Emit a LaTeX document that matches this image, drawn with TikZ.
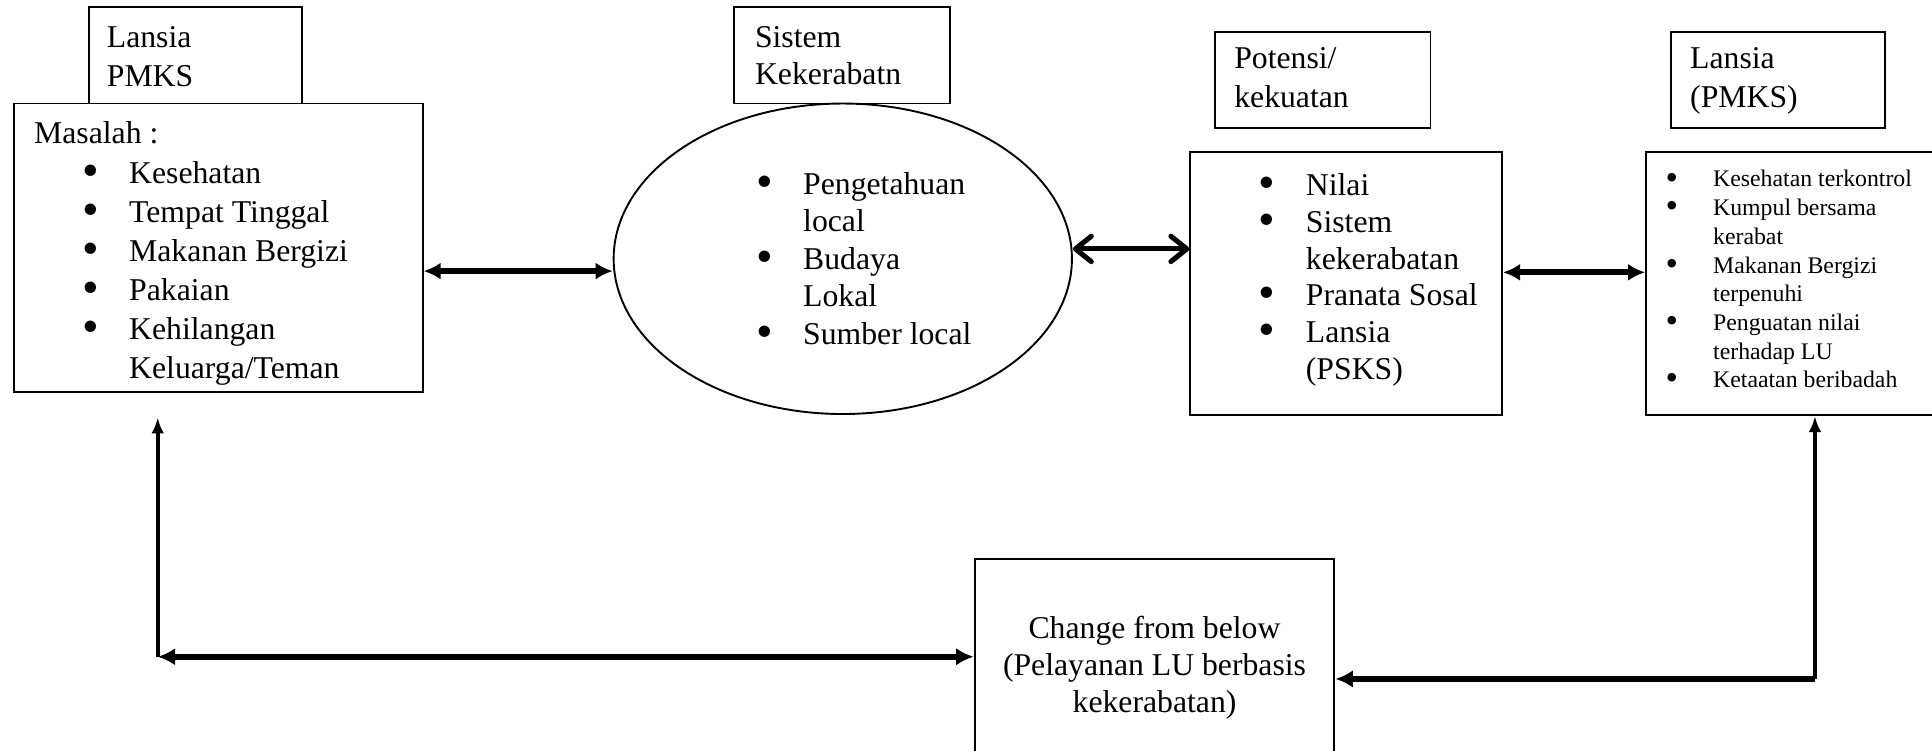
\documentclass[tikz,border=0pt]{standalone}
\usepackage{fontspec}
\setmainfont{Liberation Serif}
\usetikzlibrary{positioning, fit, shapes.geometric, arrows.meta}

\newcommand{\itm}[2][14.8pt]{\makebox[#1][l]{\smash{\raisebox{-.09em}{\scalebox{1.5}{\textbullet}}}}#2}
\newcommand{\itmgo}[2][14.8pt]{\hspace*{#1}#2}

\begin{document}
\begin{tikzpicture}
% Style
[
    x=0.3885pt, y=-0.3885pt, line width=.6pt,
    box/.style={draw, inner sep=0pt, shape=rectangle},
    txt/.style={inner sep=0pt, anchor=north west, align=left, font=\fontsize{10}{12.3}\selectfont},
    both/.style={line width=1.9pt, {Latex[length=5.4pt,width=5.4pt]}-{Latex[length=5.4pt,width=5.4pt]}},
    barb/.style={line width=1.6pt, {Straight Barb[length=5pt,width=8pt,round]}-{Straight Barb[length=5pt,width=8pt,round]}},
    link/.style={line width=1.8pt},
    rise/.style={line width=1.2pt, -{Latex[length=5pt,width=4pt]}}
]
\useasboundingbox (0,0) rectangle (1568,609);

%=================================== Start ===================================
{
    \foreach \n/\xa/\ya/\xb/\yb in {hd-1/72/6/245/84, hd-2/596/6/771/84, hd-3/986/26/1161/104,
        hd-4/1356/26/1530/104, bx-1/11/84/343/318, bx-3/966/123/1219/337,
        bx-4/1336/123/1572/337, bx-5/791/454/1083/612} {
        \node[box, fit={(\xa,\ya) (\xb,\yb)}] (\n) {};
    }
    \node[draw, ellipse, inner sep=0pt, minimum width=144.5pt, minimum height=97.9pt] (el-2) at (684,210) {};

    % headers
    \node[txt] (t-hd-1) at (86,21) {Lansia\\PMKS};
    \node[txt, font=\fontsize{10}{11.7}\selectfont] (t-hd-2) at (612,21) {Sistem\\Kekerabatn};
    \node[txt] (t-hd-3) at (1001,38) {Potensi/\\kekuatan};
    \node[txt] (t-hd-4) at (1371,38) {Lansia\\(PMKS)};

    % contents
    \node[txt] (t-bx-1) at (27,98) {Masalah :};
    \node[txt] (l-bx-1) at (66,130) {\itm{Kesehatan}\\ \itm{Tempat Tinggal}\\ \itm{Makanan Bergizi}\\
        \itm{Pakaian}\\ \itm{Kehilangan}\\ \itmgo{Keluarga/Teman}};
    \node[txt, font=\fontsize{10}{11.85}\selectfont] (l-el-2) at (613,139) {\itm{Pengetahuan}\\ \itmgo{local}\\
        \itm{Budaya}\\ \itmgo{Lokal}\\ \itm{Sumber local}};
    \node[txt, font=\fontsize{10}{11.6}\selectfont] (l-bx-3) at (1021,140) {\itm{Nilai}\\ \itm{Sistem}\\
        \itmgo{kekerabatan}\\ \itm{Pranata Sosal}\\ \itm{Lansia}\\ \itmgo{(PSKS)}};
    \node[txt, font=\fontsize{7.5}{9.05}\selectfont] (l-bx-4) at (1351,137.5) {\itm[15pt]{Kesehatan terkontrol}\\
        \itm[15pt]{Kumpul bersama}\\ \itmgo[15pt]{kerabat}\\ \itm[15pt]{Makanan Bergizi}\\ \itmgo[15pt]{terpenuhi}\\
        \itm[15pt]{Penguatan nilai}\\ \itmgo[15pt]{terhadap LU}\\ \itm[15pt]{Ketaatan beribadah}};
    \node[txt, anchor=north, align=center, font=\fontsize{10}{11.7}\selectfont] (t-bx-5) at (937,499)
        {Change from below\\(Pelayanan LU berbasis\\kekerabatan)};

    % connectors
    \coordinate (lv-12) at (0,220);
    \coordinate (lv-23) at (0,202);
    \coordinate (lv-34) at (0,221);
    \coordinate (cn-l) at (128,533);
    \coordinate (cn-r) at (1473,551);

    \draw[both] (bx-1.east |- lv-12) -- (el-2.west |- lv-12);
    \draw[barb] (el-2.east |- lv-23) -- (bx-3.west |- lv-23);
    \draw[both] (bx-3.east |- lv-34) -- (bx-4.west |- lv-34);

    \draw[rise, shorten >=7.8pt] (cn-l) -- (cn-l |- bx-1.south);
    \draw[link, {Latex[length=5.5pt,width=5.5pt]}-{Latex[length=5.5pt,width=5.5pt]}] (cn-l) -- (bx-5.west);
    \draw[rise] (cn-r) -- (cn-r |- bx-4.south);
    \draw[link, -{Latex[length=5.5pt,width=5.5pt]}] (cn-r) -- (bx-5.east |- cn-r);
}
%==================================== END ====================================

\end{tikzpicture}
\end{document}
